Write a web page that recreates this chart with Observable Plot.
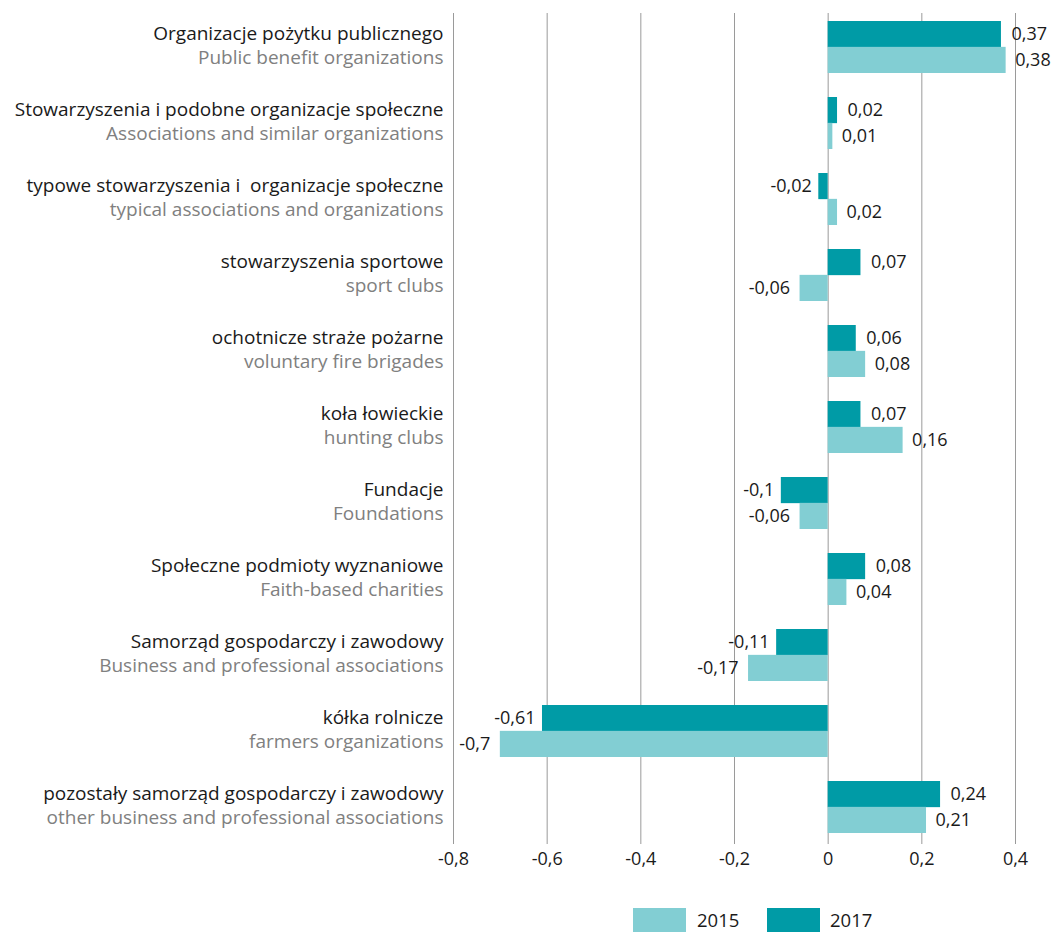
<!DOCTYPE html>
<html>
<head>
<meta charset="utf-8">
<script src="https://cdn.jsdelivr.net/npm/d3@7"></script>
<script src="https://cdn.jsdelivr.net/npm/@observablehq/plot@0.6"></script>
<style>
  html, body { margin: 0; padding: 0; background: #fff; }
  body { width: 1055px; height: 932px; overflow: hidden; font-family: "Open Sans", Lato, sans-serif; }
  #legend { position: relative; height: 52px; }
  .sw { position: absolute; top: 28px; width: 53px; height: 26px; }
  .lt { position: absolute; top: 26px; font-size: 18.5px; color: #1a1a1a; line-height: 28px; }
</style>
</head>
<body>
<div id="chart"></div>
<div id="legend"></div>
<script>
const categoriesPL = [
  "Organizacje pożytku publicznego",
  "Stowarzyszenia i podobne organizacje społeczne",
  "typowe stowarzyszenia i  organizacje społeczne",
  "stowarzyszenia sportowe",
  "ochotnicze straże pożarne",
  "koła łowieckie",
  "Fundacje",
  "Społeczne podmioty wyznaniowe",
  "Samorząd gospodarczy i zawodowy",
  "kółka rolnicze",
  "pozostały samorząd gospodarczy i zawodowy"
];
const categoriesEN = [
  "Public benefit organizations",
  "Associations and similar organizations",
  "typical associations and organizations",
  "sport clubs",
  "voluntary fire brigades",
  "hunting clubs",
  "Foundations",
  "Faith-based charities",
  "Business and professional associations",
  "farmers organizations",
  "other business and professional associations"
];
const values2017 = [0.37, 0.02, -0.02, 0.07, 0.06, 0.07, -0.1, 0.08, -0.11, -0.61, 0.24];
const values2015 = [0.38, 0.01, 0.02, -0.06, 0.08, 0.16, -0.06, 0.04, -0.17, -0.7, 0.21];
const xTicks = [-0.8, -0.6, -0.4, -0.2, 0, 0.2, 0.4];
const seriesNames = ["2015", "2017"];
const seriesColors = ["#82ced3", "#009ba6"];

const fmt = v => v === 0 ? "0" : String(v).replace(".", ",");

const rows = categoriesPL.map((c, i) => ({cat: c, en: categoriesEN[i], v17: values2017[i], v15: values2015[i]}));

const H = 880;
const bandPad = 0.32;
const fontStack = "'Open Sans', Lato, sans-serif";
const valSize = 18;
const labSize = 19;

const chart = Plot.plot({
  width: 1055,
  height: H,
  marginLeft: 453,
  marginRight: 40,
  marginTop: 13,
  marginBottom: 40,
  style: {fontFamily: fontStack, fontSize: "18px", color: "#1a1a1a", background: "#fff"},
  x: {domain: [-0.8, 0.4], ticks: xTicks, tickFormat: fmt, tickSize: 4, tickPadding: 8, label: null},
  y: {domain: categoriesPL, paddingInner: bandPad, paddingOuter: 0.1, axis: null},
  marks: [
    Plot.gridX(xTicks, {stroke: "#9a9a9a", strokeOpacity: 1, strokeWidth: 1}),
    Plot.axisX({ticks: xTicks, tickFormat: fmt, tickSize: 4, tickPadding: 8, stroke: "#9a9a9a", fontSize: valSize, fill: "#1a1a1a", label: null}),
    Plot.barX(rows, {y: "cat", x: "v17", fill: seriesColors[1], insetBottom: 25.85}),
    Plot.barX(rows, {y: "cat", x: "v15", fill: seriesColors[0], insetTop: 25.85}),
    Plot.text(rows.filter(d => d.v17 >= 0), {y: "cat", x: "v17", text: d => fmt(d.v17), dy: -13, dx: 10, textAnchor: "start", fill: "#1a1a1a", fontSize: valSize}),
    Plot.text(rows.filter(d => d.v17 < 0), {y: "cat", x: "v17", text: d => fmt(d.v17), dy: -13, dx: -7, textAnchor: "end", fill: "#1a1a1a", fontSize: valSize}),
    Plot.text(rows.filter(d => d.v15 >= 0), {y: "cat", x: "v15", text: d => fmt(d.v15), dy: 13, dx: 9, textAnchor: "start", fill: "#1a1a1a", fontSize: valSize}),
    Plot.text(rows.filter(d => d.v15 < 0), {y: "cat", x: "v15", text: d => fmt(d.v15), dy: 13, dx: -10, textAnchor: "end", fill: "#1a1a1a", fontSize: valSize}),
    Plot.text(rows, {y: "cat", text: "cat", frameAnchor: "left", textAnchor: "end", dx: -10, dy: -14, fill: "#1a1a1a", fontSize: labSize}),
    Plot.text(rows, {y: "cat", text: "en", frameAnchor: "left", textAnchor: "end", dx: -10, dy: 10, fill: "#808080", fontSize: labSize})
  ]
});
document.getElementById("chart").appendChild(chart);

const legend = document.getElementById("legend");
const legendPos = [{sw: 633, tx: 697}, {sw: 767, tx: 830}];
seriesNames.forEach((name, i) => {
  const s = document.createElement("div");
  s.className = "sw";
  s.style.left = legendPos[i].sw + "px";
  s.style.background = seriesColors[i];
  legend.appendChild(s);
  const t = document.createElement("div");
  t.className = "lt";
  t.style.left = legendPos[i].tx + "px";
  t.textContent = name;
  legend.appendChild(t);
});
</script>
</body>
</html>
